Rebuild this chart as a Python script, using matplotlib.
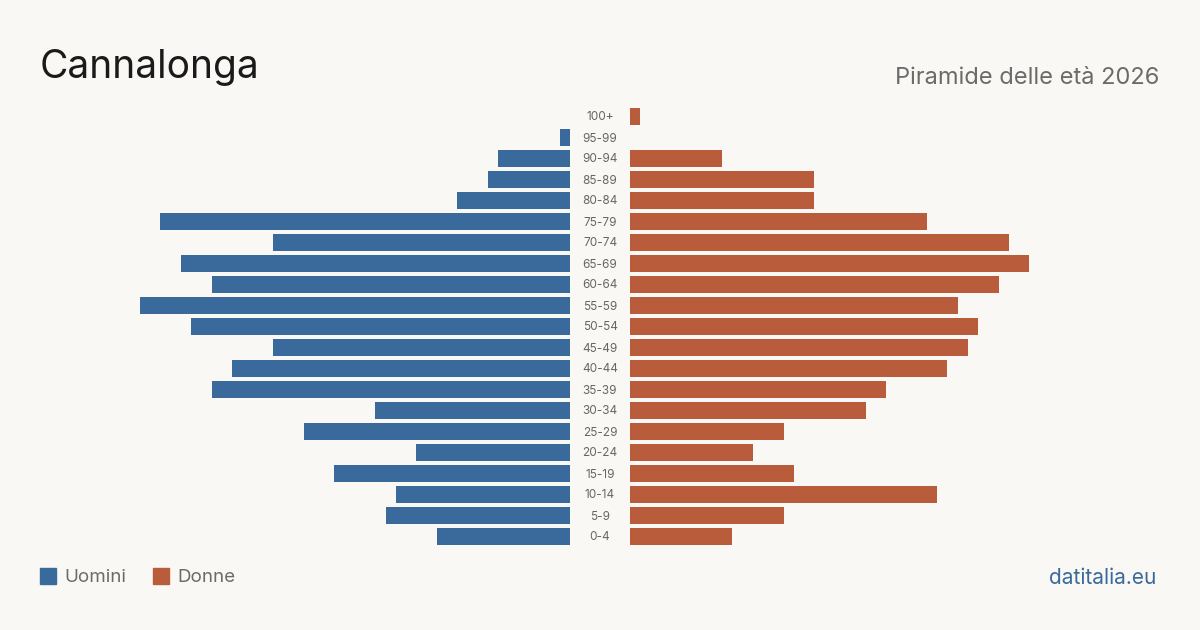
import matplotlib.pyplot as plt
import numpy as np

plt.rcParams['font.family'] = ['Inter', 'DejaVu Sans']

age_groups = ['0-4', '5-9', '10-14', '15-19', '20-24', '25-29', '30-34', '35-39',
              '40-44', '45-49', '50-54', '55-59', '60-64', '65-69', '70-74',
              '75-79', '80-84', '85-89', '90-94', '95-99', '100+']
men = [13, 18, 17, 23, 15, 26, 19, 35, 33, 29, 37, 42, 35, 38, 29, 40, 11, 8, 7, 1, 0]
women = [10, 15, 30, 16, 12, 15, 23, 25, 31, 33, 34, 32, 36, 39, 37, 29, 18, 18, 9, 0, 1]

bg = '#f9f8f4'
blue = '#3a6a9b'
orange = '#b85c3c'

W, H = 1200, 630
fig = plt.figure(figsize=(12, 6.3), dpi=100, facecolor=bg)

unit = 10.24  # px per person
top, bottom = 106, 547
ax_w = 530
span = ax_w / unit

axl = fig.add_axes([40 / W, 1 - bottom / H, ax_w / W, (bottom - top) / H])
axr = fig.add_axes([630 / W, 1 - bottom / H, ax_w / W, (bottom - top) / H])

y = np.arange(len(age_groups))
axl.barh(y, men, height=0.81, color=blue)
axr.barh(y, women, height=0.81, color=orange)
axl.set_xlim(span, 0)
axr.set_xlim(0, span)
for ax in (axl, axr):
    ax.set_ylim(-0.5, len(age_groups) - 0.5)
    ax.set_facecolor('none')
    ax.axis('off')

# age labels in the middle gap
for i, lab in enumerate(age_groups):
    fig.text(600 / W, 1 - (537.5 - 21 * i) / H, lab, ha='center', va='center',
             fontsize=8.5, color='#666666')

fig.text(40 / W, 1 - 68 / H, 'Cannalonga', fontsize=28, color='#1a1a1a',
         ha='left', va='center')
fig.text(1159 / W, 1 - 78 / H, 'Piramide delle età 2026', fontsize=17,
         color='#6b6b6b', ha='right', va='center')

# legend
fig.patches.append(plt.Rectangle((40 / W, 1 - 584 / H), 16 / W, 16 / H,
                                 transform=fig.transFigure, color=blue))
fig.text(64 / W, 1 - 578 / H, 'Uomini', fontsize=13.5, color='#6b6b6b',
         ha='left', va='center')
fig.patches.append(plt.Rectangle((153 / W, 1 - 584 / H), 16 / W, 16 / H,
                                 transform=fig.transFigure, color=orange))
fig.text(177 / W, 1 - 578 / H, 'Donne', fontsize=13.5, color='#6b6b6b',
         ha='left', va='center')

fig.text(1156 / W, 1 - 578 / H, 'datitalia.eu', fontsize=15, color=blue,
         ha='right', va='center')

fig.savefig('out.png', dpi=100, facecolor=bg)
